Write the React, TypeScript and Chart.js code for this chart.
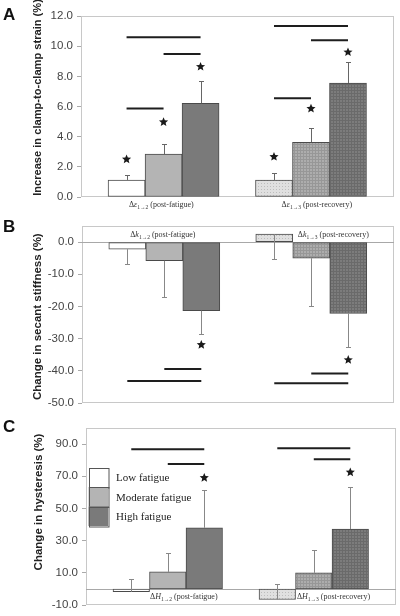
import React, { useEffect, useRef } from 'react';
import { Chart, registerables } from 'chart.js';

Chart.register(...registerables);

// ---------- shared ----------
const seriesLabels = ['Low fatigue', 'Moderate fatigue', 'High fatigue'];
const groupSubs = ['1\u21922', '1\u21923'];
const groupNames = ['(post-fatigue)', '(post-recovery)'];

// ---------- Panel A: clamp-to-clamp strain ----------
const strainLow = [1.13, 1.13];
const strainModerate = [2.85, 3.63];
const strainHigh = [6.21, 7.56];
const strainErrLow = [1.48, 1.61];
const strainErrModerate = [3.49, 4.58];
const strainErrHigh = [7.71, 8.93];
const strainTicks = [0, 2, 4, 6, 8, 10, 12];
// [group, series, y]
const strainStars = [[0, 0, 2.5], [0, 1, 4.97], [0, 2, 8.64], [1, 0, 2.67], [1, 1, 5.86], [1, 2, 9.6]];
// [group, fromSeries, toSeries, y]
const strainBrackets = [[0, 0, 2, 10.59], [0, 1, 2, 9.48], [0, 0, 1, 5.86], [1, 0, 2, 11.34], [1, 1, 2, 10.39], [1, 0, 1, 6.54]];

// ---------- Panel B: secant stiffness ----------
const stiffLow = [-2.2, 2.5];
const stiffModerate = [-5.8, -5.0];
const stiffHigh = [-21.3, -22.2];
const stiffErrLow = [-6.7, -5.2];
const stiffErrModerate = [-17.1, -19.9];
const stiffErrHigh = [-28.7, -32.6];
const stiffTicks = [0, -10, -20, -30, -40, -50];
const stiffStars = [[0, 2, -31.9], [1, 2, -36.6]];
const stiffBrackets = [[0, 1, 2, -39.4], [0, 0, 2, -43.2], [1, 1, 2, -40.8], [1, 0, 2, -43.9]];

// ---------- Panel C: hysteresis ----------
const hystLow = [-1.7, -6.5];
const hystModerate = [10.6, 10.0];
const hystHigh = [38.0, 37.2];
const hystErrLow = [6.5, 3.4];
const hystErrModerate = [22.3, 24.3];
const hystErrHigh = [61.2, 63.5];
const hystTicks = [-10, 10, 30, 50, 70, 90];
const hystStars = [[0, 2, 69.1], [1, 2, 72.5]];
const hystBrackets = [[0, 0, 2, 86.8], [0, 1, 2, 77.7], [1, 0, 2, 87.4], [1, 1, 2, 80.6]];

const X_MIN = -0.56;
const X_MAX = 1.563;

type PanelCfg = {
  letter: string;
  symbol: string;
  title: string;
  titleSize: number;
  values: number[][];
  errs: number[][];
  ticks: number[];
  yMin: number;
  yMax: number;
  stars: number[][];
  brackets: number[][];
  canvasTop: number;
  canvasHeight: number;
  frame: { left: number; right: number; top: number; bottom: number };
  barThickness: number;
  labelPos: number[][]; // [xValue, yValue]
  titleX: number;
  titleY: number;
  letterY: number;
  zeroLine: boolean;
  errColor: string;
  legend: boolean;
};

const panels: PanelCfg[] = [
  {
    letter: 'A', symbol: '\u03b5', title: 'Increase in clamp-to-clamp strain (%)', titleSize: 11.1,
    values: [strainLow, strainModerate, strainHigh],
    errs: [strainErrLow, strainErrModerate, strainErrHigh],
    ticks: strainTicks, yMin: 0, yMax: 12,
    stars: strainStars, brackets: strainBrackets,
    canvasTop: 0, canvasHeight: 212,
    frame: { left: 81, right: 394, top: 16, bottom: 197 },
    barThickness: 37,
    labelPos: [[-0.015, -0.47], [1.04, -0.47]],
    titleX: 38, titleY: 97.5, letterY: 20,
    zeroLine: false, errColor: '#666', legend: false,
  },
  {
    letter: 'B', symbol: 'k', title: 'Change in secant stiffness (%)', titleSize: 11.5,
    values: [stiffLow, stiffModerate, stiffHigh],
    errs: [stiffErrLow, stiffErrModerate, stiffErrHigh],
    ticks: stiffTicks, yMin: -50, yMax: 5,
    stars: stiffStars, brackets: stiffBrackets,
    canvasTop: 205, canvasHeight: 210,
    frame: { left: 82, right: 394, top: 21, bottom: 198 },
    barThickness: 37,
    labelPos: [[-0.01, 2.5], [1.15, 2.5]],
    titleX: 38, titleY: 111.7, letterY: 27,
    zeroLine: true, errColor: '#888', legend: false,
  },
  {
    letter: 'C', symbol: 'H', title: 'Change in hysteresis (%)', titleSize: 11.5,
    values: [hystLow, hystModerate, hystHigh],
    errs: [hystErrLow, hystErrModerate, hystErrHigh],
    ticks: hystTicks, yMin: -10, yMax: 100,
    stars: hystStars, brackets: hystBrackets,
    canvasTop: 412, canvasHeight: 204,
    frame: { left: 86, right: 396, top: 16, bottom: 195 },
    barThickness: 36.5,
    labelPos: [[0.11, -4.2], [1.135, -4.2]],
    titleX: 39, titleY: 90, letterY: 20,
    zeroLine: true, errColor: '#888', legend: true,
  },
];

function makePattern(base: string, dot: string, size: number, grid: boolean): CanvasPattern | string {
  const c = document.createElement('canvas');
  c.width = size; c.height = size;
  const g = c.getContext('2d');
  if (!g) return base;
  g.fillStyle = base;
  g.fillRect(0, 0, size, size);
  g.fillStyle = dot;
  if (grid) {
    g.fillRect(0, 0, size, 1);
    g.fillRect(0, 0, 1, size);
  } else {
    g.fillRect(0, 0, 1, 1);
  }
  const pat = g.createPattern(c, 'repeat');
  return pat || base;
}

function drawStar(ctx: CanvasRenderingContext2D, cx: number, cy: number, r: number) {
  const inner = r * 0.45;
  ctx.beginPath();
  for (let i = 0; i < 10; i++) {
    const rad = i % 2 === 0 ? r : inner;
    const ang = -Math.PI / 2 + (i * Math.PI) / 5;
    const px = cx + rad * Math.cos(ang);
    const py = cy + rad * Math.sin(ang);
    if (i === 0) ctx.moveTo(px, py); else ctx.lineTo(px, py);
  }
  ctx.closePath();
  ctx.fill();
}

function drawGroupLabel(ctx: CanvasRenderingContext2D, cx: number, cy: number, symbol: string, sub: string, name: string) {
  const parts = [
    { t: '\u0394', f: '8px "Liberation Serif"', dy: 0 },
    { t: symbol, f: 'italic 8px "Liberation Serif"', dy: 0 },
    { t: sub, f: '5.5px "Liberation Serif"', dy: 2 },
    { t: ' ' + name, f: '8px "Liberation Serif"', dy: 0 },
  ];
  let total = 0;
  const widths = parts.map((p) => { ctx.font = p.f; const w = ctx.measureText(p.t).width; total += w; return w; });
  let x = cx - total / 2;
  ctx.fillStyle = '#333';
  ctx.textAlign = 'left';
  ctx.textBaseline = 'alphabetic';
  parts.forEach((p, i) => {
    ctx.font = p.f;
    ctx.fillText(p.t, x, cy + 3 + p.dy);
    x += widths[i];
  });
}

function decor(p: PanelCfg, fills: any[][]) {
  return {
    id: 'decor' + p.letter,
    beforeDatasetsDraw(chart: any) {
      const { ctx, chartArea: a, scales } = chart;
      const y = scales.y;
      ctx.save();
      ctx.strokeStyle = '#c8c8c8';
      ctx.lineWidth = 1;
      ctx.strokeRect(Math.round(a.left) + 0.5, Math.round(a.top) + 0.5, Math.round(a.right - a.left) - 1, Math.round(a.bottom - a.top) - 1);
      if (p.zeroLine) {
        const zy = Math.round(y.getPixelForValue(0)) + 0.5;
        ctx.strokeStyle = '#a8a8a8';
        ctx.beginPath();
        ctx.moveTo(a.left, zy);
        ctx.lineTo(a.right, zy);
        ctx.stroke();
      }
      ctx.restore();
    },
    afterDatasetsDraw(chart: any) {
      const { ctx, scales } = chart;
      const y = scales.y;
      const x = scales.x;
      ctx.save();
      // error bars
      ctx.strokeStyle = p.errColor;
      ctx.lineWidth = 1;
      p.errs.forEach((ends, si) => {
        const meta = chart.getDatasetMeta(si);
        ends.forEach((end, gi) => {
          const el = meta.data[gi];
          const ex = Math.round(el.x) + 0.5;
          const y0 = y.getPixelForValue(p.values[si][gi]);
          const y1 = Math.round(y.getPixelForValue(end)) + 0.5;
          ctx.beginPath();
          ctx.moveTo(ex, y0);
          ctx.lineTo(ex, y1);
          ctx.moveTo(ex - 2.5, y1);
          ctx.lineTo(ex + 2.5, y1);
          ctx.stroke();
        });
      });
      // significance brackets
      ctx.strokeStyle = '#1e1e1e';
      ctx.lineWidth = 2;
      p.brackets.forEach(([g, s1, s2, v]) => {
        const xa = chart.getDatasetMeta(s1).data[g].x;
        const xb = chart.getDatasetMeta(s2).data[g].x;
        const yy = y.getPixelForValue(v);
        ctx.beginPath();
        ctx.moveTo(xa, yy);
        ctx.lineTo(xb, yy);
        ctx.stroke();
      });
      // stars
      ctx.fillStyle = '#1a1a1a';
      p.stars.forEach(([g, s, v]) => {
        const sx = chart.getDatasetMeta(s).data[g].x;
        drawStar(ctx, sx, y.getPixelForValue(v), 4.8);
      });
      // group labels
      p.labelPos.forEach(([lx, ly], gi) => {
        drawGroupLabel(ctx, x.getPixelForValue(lx), y.getPixelForValue(ly), p.symbol, groupSubs[gi], groupNames[gi]);
      });
      ctx.restore();
    },
    afterDraw(chart: any) {
      const { ctx, chartArea: a } = chart;
      ctx.save();
      // axis title
      ctx.translate(p.titleX, p.titleY);
      ctx.rotate(-Math.PI / 2);
      ctx.font = 'bold ' + p.titleSize + 'px "Liberation Sans"';
      ctx.fillStyle = '#222';
      ctx.textAlign = 'center';
      ctx.textBaseline = 'middle';
      ctx.fillText(p.title, 0, 0);
      ctx.restore();
      // panel letter
      ctx.save();
      ctx.font = 'bold 17px "Liberation Sans"';
      ctx.fillStyle = '#111';
      ctx.textAlign = 'left';
      ctx.textBaseline = 'alphabetic';
      ctx.fillText(p.letter, 3, p.letterY);
      ctx.restore();
      // legend
      if (p.legend) {
        ctx.save();
        const bx = a.left + 2.5;
        let by = a.top + 39.5;
        const bw = 19.5;
        const bh = 19.5;
        chart.data.datasets.forEach((ds: any, i: number) => {
          ctx.fillStyle = fills[i][0];
          ctx.fillRect(bx, by, bw, bh);
          ctx.strokeStyle = '#555';
          ctx.lineWidth = 1;
          ctx.strokeRect(Math.round(bx) + 0.5, Math.round(by) + 0.5, bw, bh);
          ctx.font = '11px "Liberation Serif"';
          ctx.fillStyle = '#222';
          ctx.textAlign = 'left';
          ctx.textBaseline = 'middle';
          ctx.fillText(ds.label, bx + bw + 8, by + bh / 2 + 1);
          by += bh;
        });
        ctx.restore();
      }
    },
  };
}

function PanelChart({ p }: { p: PanelCfg }) {
  const ref = useRef<HTMLCanvasElement>(null);
  useEffect(() => {
    const canvas = ref.current;
    if (!canvas) return;
    const fills: any[][] = [
      ['#ffffff', makePattern('#e0e0e0', '#bdbdbd', 3, false)],
      ['#b4b4b4', makePattern('#adadad', '#979797', 3, true)],
      ['#7a7a7a', makePattern('#7c7c7c', '#6a6a6a', 3, true)],
    ];
    const chart = new Chart(canvas, {
      type: 'bar',
      data: {
        datasets: p.values.map((vals, si) => ({
          label: seriesLabels[si],
          data: vals.map((v, gi) => ({ x: gi, y: v })),
          backgroundColor: fills[si],
          borderColor: '#4a4a4a',
          borderWidth: 1,
          borderSkipped: false,
          barThickness: p.barThickness,
        })),
      },
      options: {
        responsive: false,
        animation: false,
        devicePixelRatio: 1,
        layout: {
          padding: {
            left: 0,
            top: p.frame.top,
            bottom: p.canvasHeight - p.frame.bottom,
            right: 400 - p.frame.right,
          },
        },
        plugins: { legend: { display: false }, tooltip: { enabled: false } },
        scales: {
          x: {
            type: 'linear',
            min: X_MIN,
            max: X_MAX,
            offset: false,
            display: false,
            grid: { offset: false },
            afterBuildTicks: (s: any) => { s.ticks = [{ value: 0 }, { value: 1 }]; },
          },
          y: {
            type: 'linear',
            min: p.yMin,
            max: p.yMax,
            afterBuildTicks: (s: any) => { s.ticks = p.ticks.map((v) => ({ value: v })); },
            afterFit: (s: any) => { s.width = p.frame.left; },
            ticks: {
              callback: (v: any) => Number(v).toFixed(1),
              color: '#444',
              font: { family: 'Liberation Sans', size: 11.5 },
              padding: 4,
            },
            grid: { drawOnChartArea: false, drawTicks: true, tickLength: 4, color: '#aaa' },
            border: { display: false },
          },
        },
      } as any,
      plugins: [decor(p, fills)],
    });
    return () => chart.destroy();
  }, [p]);
  return (
    <canvas
      ref={ref}
      width={400}
      height={p.canvasHeight}
      style={{ position: 'absolute', left: 0, top: p.canvasTop, width: 400, height: p.canvasHeight }}
    />
  );
}

export default function App() {
  return (
    <div style={{ position: 'fixed', left: 0, top: 0, width: 400, height: 616, background: '#fff', overflow: 'hidden' }}>
      {panels.map((p) => (
        <PanelChart key={p.letter} p={p} />
      ))}
    </div>
  );
}
